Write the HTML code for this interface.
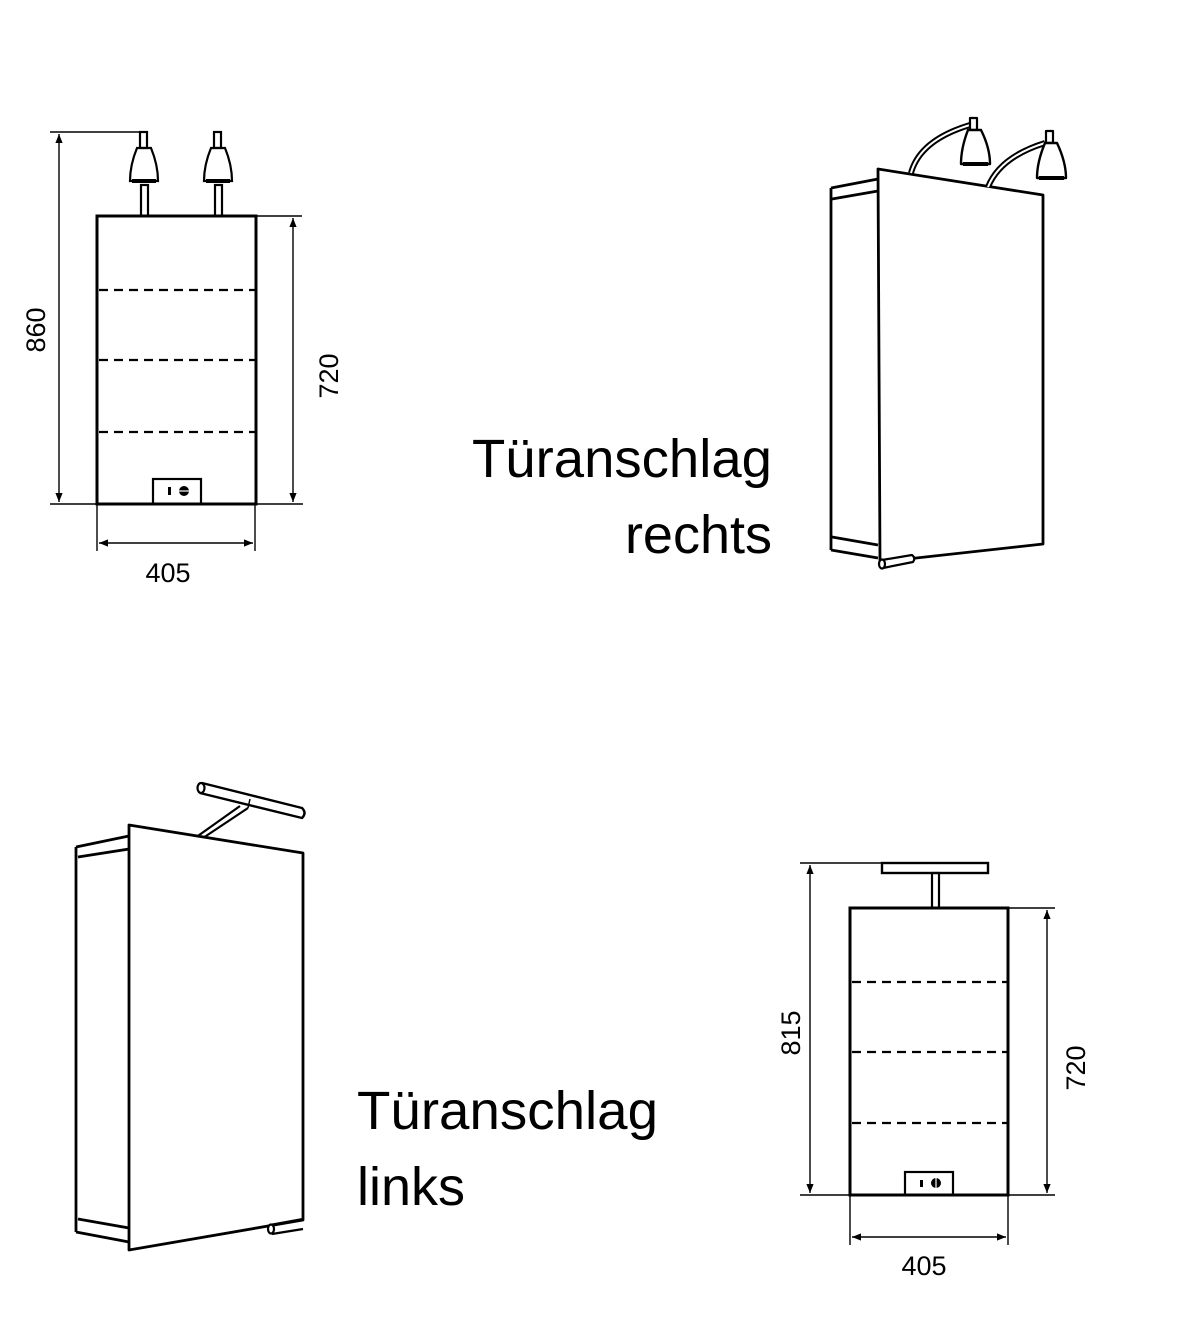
<!DOCTYPE html>
<html><head><meta charset="utf-8"><style>
html,body{margin:0;padding:0;background:#fff;}
svg{display:block;}
text{font-family:"Liberation Sans","DejaVu Sans",sans-serif;fill:#000;}
</style></head><body>
<svg width="1202" height="1328" viewBox="0 0 1202 1328" xmlns="http://www.w3.org/2000/svg">
<defs>
<marker id="ar" viewBox="0 0 10 10" refX="10" refY="5" markerWidth="11" markerHeight="9" orient="auto-start-reverse" markerUnits="userSpaceOnUse"><path d="M0,1 L10,5 L0,9 z" fill="#000"/></marker>
</defs>
<g stroke="#000" fill="none">
<!-- Top-left front view -->
<rect x="97" y="216" width="159" height="288" stroke-width="3"/>
<g stroke-width="2.2" stroke-dasharray="9,6">
<line x1="99" y1="290" x2="255" y2="290"/>
<line x1="99" y1="360" x2="255" y2="360"/>
<line x1="99" y1="432" x2="255" y2="432"/>
</g>
<rect x="153" y="479" width="48" height="25" stroke-width="2.2"/>
<rect x="168" y="487" width="3" height="8" fill="#000" stroke="none"/>
<circle cx="184" cy="491" r="5" fill="#000" stroke="none"/>
<line x1="179" y1="491" x2="189" y2="491" stroke="#fff" stroke-width="1.2"/>
<!-- lamps -->
<g stroke-width="2.2">
<rect x="140" y="132" width="7" height="16"/>
<path d="M137,148 L151,148 Q158,165 158,181 L130,181 Q130,165 137,148 Z"/>
<line x1="132" y1="181" x2="156" y2="181" stroke-width="4"/>
<rect x="141" y="185" width="7" height="31"/>
<rect x="214" y="132" width="7" height="16"/>
<path d="M211,148 L225,148 Q232,165 232,181 L204,181 Q204,165 211,148 Z"/>
<line x1="206" y1="181" x2="230" y2="181" stroke-width="4"/>
<rect x="215" y="185" width="7" height="31"/>
</g>
<!-- dims -->
<g stroke-width="1.4">
<line x1="50" y1="132" x2="140" y2="132"/>
<line x1="50" y1="504" x2="303" y2="504"/>
<line x1="59" y1="134" x2="59" y2="502" marker-start="url(#ar)" marker-end="url(#ar)"/>
<line x1="256" y1="216" x2="302" y2="216"/>
<line x1="293" y1="218" x2="293" y2="502" marker-start="url(#ar)" marker-end="url(#ar)"/>
<line x1="97" y1="504" x2="97" y2="551"/>
<line x1="255" y1="504" x2="255" y2="551"/>
<line x1="99" y1="543" x2="253" y2="543" marker-start="url(#ar)" marker-end="url(#ar)"/>
</g>

<!-- Top-right perspective -->
<g stroke-width="2.8" stroke-linejoin="round">
<polygon points="878,169 1043,195 1043,544 880,562" fill="#fff"/>
<line x1="831" y1="188" x2="831" y2="550"/>
<line x1="831" y1="188" x2="878" y2="179"/>
<line x1="832" y1="199" x2="878" y2="191"/>
<line x1="832" y1="537" x2="878" y2="545"/>
<line x1="831" y1="550" x2="878" y2="558"/>
<!-- lamp arms -->
<path d="M911,173 Q920,140 970,125" stroke-width="6"/>
<path d="M911,173 Q920,140 970,125" stroke="#fff" stroke-width="2"/>
<path d="M988,187 Q1000,157 1045,143" stroke-width="6"/>
<path d="M988,187 Q1000,157 1045,143" stroke="#fff" stroke-width="2"/>
<rect x="970" y="118" width="7" height="12" stroke-width="2.2"/>
<path d="M968,130 L981,130 Q990,148 990,164 L961,164 Q961,148 968,130 Z" fill="#fff" stroke-width="2.4"/>
<line x1="963" y1="164" x2="988" y2="164" stroke-width="4"/>
<rect x="1046" y="131" width="7" height="12" stroke-width="2.2"/>
<path d="M1045,143 L1057,143 Q1066,162 1066,178 L1037,178 Q1037,162 1045,143 Z" fill="#fff" stroke-width="2.4"/>
<line x1="1039" y1="178" x2="1064" y2="178" stroke-width="4"/>
<path d="M882,560 L912,555 Q916,558 913,562 L883,568" stroke-width="2.2" fill="#fff"/>
<ellipse cx="882" cy="564" rx="3" ry="4.5" stroke-width="2.2" fill="#fff"/>
</g>

<!-- Bottom-left perspective -->
<g stroke-width="2.8" stroke-linejoin="round">
<path d="M195,838 L240,806 M203,838 L248,808" stroke-width="2.2"/>
<polygon points="129,825 303,853 303,1220 129,1250" fill="#fff"/>
<line x1="76" y1="847" x2="76" y2="1232"/>
<line x1="76" y1="847" x2="129" y2="836"/>
<line x1="78" y1="857" x2="129" y2="849"/>
<line x1="78" y1="1219" x2="129" y2="1228"/>
<line x1="76" y1="1232" x2="129" y2="1242"/>
<path d="M202,783 L302,808 Q307,813 302,818 L200,793" stroke-width="2.4" fill="#fff"/>
<ellipse cx="201" cy="788" rx="3.5" ry="5" stroke-width="2.2" fill="#fff"/>
<line x1="250" y1="799" x2="248" y2="808" stroke-width="1.5"/>
<path d="M270,1225 L303,1219 M272,1234 L303,1229" stroke-width="2.2"/>
<ellipse cx="271" cy="1229" rx="3" ry="4.5" stroke-width="2.2" fill="#fff"/>
</g>

<!-- Bottom-right front view -->
<rect x="850" y="908" width="158" height="287" stroke-width="3"/>
<g stroke-width="2.2" stroke-dasharray="9,6">
<line x1="852" y1="982" x2="1007" y2="982"/>
<line x1="852" y1="1052" x2="1007" y2="1052"/>
<line x1="852" y1="1123" x2="1007" y2="1123"/>
</g>
<rect x="905" y="1172" width="48" height="23" stroke-width="2.2"/>
<rect x="920" y="1180" width="3" height="7" fill="#000" stroke="none"/>
<circle cx="936" cy="1183" r="5" fill="#000" stroke="none"/>
<line x1="936" y1="1178" x2="936" y2="1188" stroke="#fff" stroke-width="1.2"/>
<rect x="882" y="863" width="106" height="10" stroke-width="2.4"/>
<rect x="932" y="873" width="7" height="35" stroke-width="2.2"/>
<g stroke-width="1.4">
<line x1="800" y1="863" x2="882" y2="863"/>
<line x1="800" y1="1195" x2="1055" y2="1195"/>
<line x1="810" y1="865" x2="810" y2="1193" marker-start="url(#ar)" marker-end="url(#ar)"/>
<line x1="1008" y1="908" x2="1055" y2="908"/>
<line x1="1047" y1="910" x2="1047" y2="1193" marker-start="url(#ar)" marker-end="url(#ar)"/>
<line x1="850" y1="1195" x2="850" y2="1245"/>
<line x1="1008" y1="1195" x2="1008" y2="1245"/>
<line x1="852" y1="1237" x2="1006" y2="1237" marker-start="url(#ar)" marker-end="url(#ar)"/>
</g>
</g>

<!-- dimension texts -->
<g font-size="27">
<text transform="translate(45,330) rotate(-90)" text-anchor="middle">860</text>
<text transform="translate(338,376) rotate(-90)" text-anchor="middle">720</text>
<text x="168" y="582" text-anchor="middle">405</text>
<text transform="translate(800,1033) rotate(-90)" text-anchor="middle">815</text>
<text transform="translate(1085,1068) rotate(-90)" text-anchor="middle">720</text>
<text x="924" y="1275" text-anchor="middle">405</text>
</g>
<g font-size="54">
<text x="472" y="477" textLength="300" lengthAdjust="spacingAndGlyphs">Türanschlag</text>
<text x="772" y="553" text-anchor="end">rechts</text>
<text x="357" y="1129" textLength="301" lengthAdjust="spacingAndGlyphs">Türanschlag</text>
<text x="357" y="1205">links</text>
</g>
</svg>
</body></html>
